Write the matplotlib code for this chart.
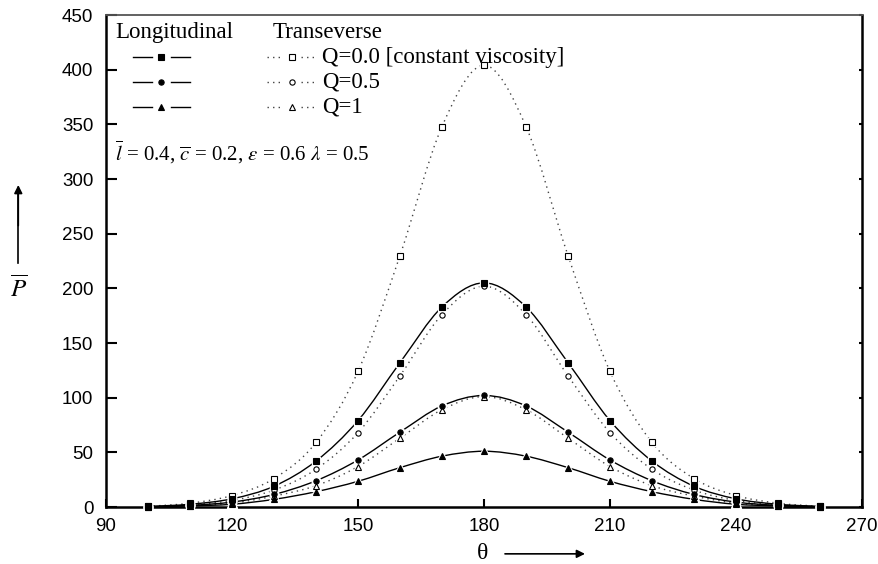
import matplotlib.pyplot as plt
from matplotlib.path import Path
from matplotlib.patches import PathPatch

plt.rcParams['mathtext.fontset'] = 'stix'
plt.rcParams['font.family'] = ['Liberation Sans', 'DejaVu Sans']

theta = list(range(100, 261, 10))

# transverse bearing (dotted, open markers)
trans_q00 = [0.6, 3.5, 10.5, 26, 59, 124, 230, 348, 404, 348, 230, 124, 59, 26, 10.5, 3.5, 0.6]
trans_q05 = [0.4, 2, 6, 15.5, 34.5, 68, 120, 176, 202, 176, 120, 68, 34.5, 15.5, 6, 2, 0.4]
trans_q10 = [0.3, 1.2, 3.5, 10, 19.5, 37, 63, 89, 101, 89, 63, 37, 19.5, 10, 3.5, 1.2, 0.3]

# longitudinal bearing (solid, filled markers)
long_q00 = [0.5, 2.5, 7.5, 19, 42, 79, 132, 183, 205, 183, 132, 79, 42, 19, 7.5, 2.5, 0.5]
long_q05 = [0.3, 1.5, 4.5, 11.5, 24, 43, 68.5, 92.5, 102, 92.5, 68.5, 43, 24, 11.5, 4.5, 1.5, 0.3]
long_q10 = [0.2, 1, 2.5, 7, 14, 23.5, 36, 46.5, 51, 46.5, 36, 23.5, 14, 7, 2.5, 1, 0.2]

q_labels = ['Q=0.0 [constant viscosity]', 'Q=0.5', 'Q=1']
markers = ['s', 'o', '^']

DOTTED = (0, (1, 3))


def smooth_path(x, y):
    # Catmull-Rom through the points, written as cubic Bezier segments
    n = len(x)
    verts = [(x[0], y[0])]
    codes = [Path.MOVETO]
    for i in range(n - 1):
        xa, ya = (x[i - 1], y[i - 1]) if i > 0 else (x[i], y[i])
        xb, yb = (x[i + 2], y[i + 2]) if i + 2 < n else (x[i + 1], y[i + 1])
        c1 = (x[i] + (x[i + 1] - xa) / 6.0, y[i] + (y[i + 1] - ya) / 6.0)
        c2 = (x[i + 1] - (xb - x[i]) / 6.0, y[i + 1] - (yb - y[i]) / 6.0)
        verts += [c1, c2, (x[i + 1], y[i + 1])]
        codes += [Path.CURVE4] * 3
    return Path(verts, codes)


def draw_series(ax, vals, marker, filled):
    ls = '-' if filled else DOTTED
    col = 'black' if filled else '#444444'
    ax.add_patch(PathPatch(smooth_path(theta, vals), fill=False, lw=1.0,
                           ls=ls, ec=col, zorder=2))
    ms = 4.5 if marker == '^' else 3.8
    ax.plot(theta, vals, ls='none', marker=marker, ms=ms + 2.5,
            mfc='white', mec='white', zorder=3, clip_on=False)
    ax.plot(theta, vals, ls='none', marker=marker, ms=ms,
            mfc='black' if filled else 'white', mec='black', mew=0.8,
            zorder=4, clip_on=False)


def legend_sample(ax, x0, x1, y, marker, filled):
    xm = (x0 + x1) / 2
    gap = 0.012
    ls = '-' if filled else DOTTED
    col = 'black' if filled else '#444444'
    for a, b in [(x0, xm - gap), (xm + gap, x1)]:
        ax.plot([a, b], [y, y], ls=ls, color=col, lw=1.0,
                transform=ax.transAxes, clip_on=False)
    ms = 4.5 if marker == '^' else 3.8
    ax.plot([xm], [y], ls='none', marker=marker, ms=ms,
            mfc='black' if filled else 'white', mec='black', mew=0.8,
            transform=ax.transAxes, clip_on=False)


fig = plt.figure(figsize=(8.79, 5.64), dpi=100)
ax = fig.add_axes([106 / 879, 57 / 564, 756 / 879, 492 / 564])

for vals, m in zip([trans_q00, trans_q05, trans_q10], markers):
    draw_series(ax, vals, m, False)
for vals, m in zip([long_q00, long_q05, long_q10], markers):
    draw_series(ax, vals, m, True)

ax.set_xlim(90, 270)
ax.set_ylim(0, 450)
ax.set_xticks(range(90, 271, 30))
ax.set_yticks(range(0, 451, 50))
ax.tick_params(axis='y', direction='in', length=8, width=1.5, pad=9,
               labelsize=13.5, right=True)
ax.tick_params(axis='x', direction='in', length=6, width=1.5, pad=8,
               labelsize=13.5)
for side in ['left', 'bottom', 'right']:
    ax.spines[side].set_linewidth(1.8)
ax.spines['top'].set_linewidth(1.3)
ax.spines['top'].set_color('#555555')
for t in ax.yaxis.get_ticklines()[1::2]:
    t.set_markersize(2)

# legend, laid out by hand in two columns
serif = ['Liberation Serif', 'DejaVu Serif']
ax.text(0.012, 0.965, 'Longitudinal', family=serif, fontsize=16.5,
        va='center', transform=ax.transAxes)
ax.text(0.221, 0.965, 'Transeverse', family=serif, fontsize=16.5,
        va='center', transform=ax.transAxes)
rows = [0.9146, 0.8638, 0.813]
for y, m, lab in zip(rows, markers, q_labels):
    legend_sample(ax, 0.0357, 0.111, y, m, True)
    legend_sample(ax, 0.213, 0.279, y, m, False)
    ax.text(0.2857, y, lab, family=serif, fontsize=16.5, va='center',
            transform=ax.transAxes)

ax.text(0.012, 0.7215,
        r'$\overline{l}$ = 0.4, $\overline{c}$ = 0.2, $\varepsilon$ = 0.6 $\lambda$ = 0.5',
        family=serif, fontsize=15, va='center', transform=ax.transAxes)

# axis labels with arrows
fig.text(0.0208, 0.489, r'$\overline{P}$', fontsize=18, ha='center', va='center')
fig.add_artist(plt.Line2D([0.0208, 0.0208], [0.5337, 0.66], color='black', lw=1.2))
ax.annotate('', xy=(0.0208, 0.672), xytext=(0.0208, 0.6),
            xycoords='figure fraction', textcoords='figure fraction',
            arrowprops=dict(arrowstyle='-|>', color='black', lw=1.2,
                            mutation_scale=12, shrinkA=0, shrinkB=0))
fig.text(0.549, 0.018, '\u03b8', family=serif, fontsize=17, ha='center', va='center')
ax.annotate('', xy=(0.6655, 0.018), xytext=(0.5745, 0.018),
            xycoords='figure fraction', textcoords='figure fraction',
            arrowprops=dict(arrowstyle='-|>', color='black', lw=1.2,
                            mutation_scale=12, shrinkA=0, shrinkB=0))

fig.savefig('out.png', dpi=100)
